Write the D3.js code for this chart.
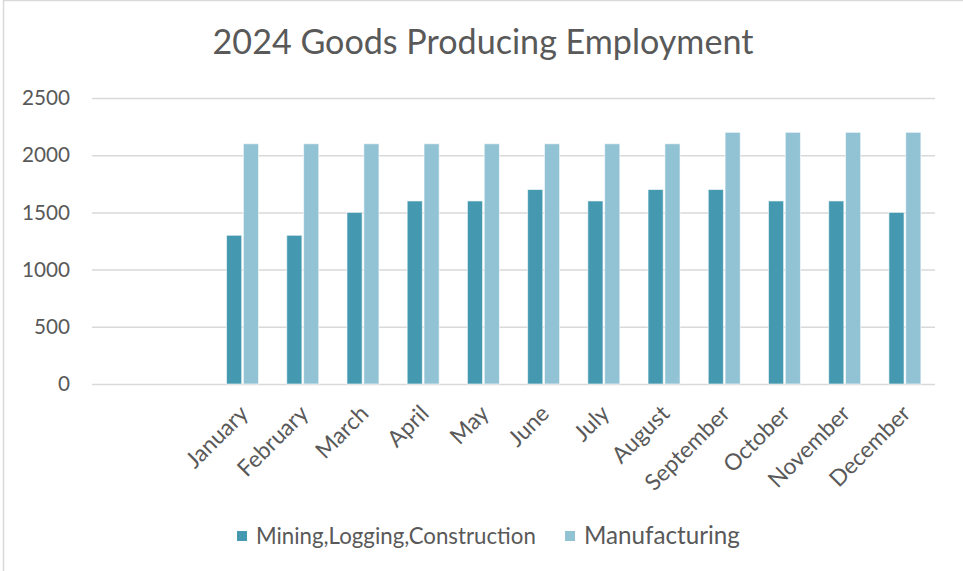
<!DOCTYPE html>
<html><head><meta charset="utf-8">
<script src="https://cdn.jsdelivr.net/npm/d3@7"></script>
<style>body{margin:0;background:#fff}svg{display:block}text{font-family:Lato,"Open Sans",sans-serif;fill:#595959}</style>
</head><body>
<svg id="c" width="963" height="571"></svg>
<script>
const categories = ["", " ", "January","February","March","April","May","June","July","August","September","October","November","December"];
const seriesNames = ["Mining,Logging,Construction","Manufacturing"];
const mining = [null,null,1300,1300,1500,1600,1600,1700,1600,1700,1700,1600,1600,1500];
const manufacturing = [null,null,2100,2100,2100,2100,2100,2100,2100,2100,2200,2200,2200,2200];
const yTicks = [0,500,1000,1500,2000,2500];
const colors = ["#4499b0","#92c3d5"];

const svg = d3.select("#c");
svg.append("rect").attr("x",3.5).attr("y",0.5).attr("width",1000).attr("height",600)
  .attr("fill","#fff").attr("stroke","#d9d9d9").attr("stroke-width",1.5);

function fit(sel, target){
  sel.style("font-size","20px");
  const w = sel.node().getComputedTextLength();
  const s = 20*target/w;
  sel.style("font-size", s+"px");
  return s;
}

const m = {left:92,right:935,top:98,bottom:384};
const x = d3.scaleBand().domain(categories).range([m.left,m.right]).paddingInner(0).paddingOuter(0);
const y = d3.scaleLinear().domain([0,2500]).range([m.bottom,m.top]);

const title = svg.append("text").attr("x",483).attr("y",54).attr("text-anchor","middle")
  .text("2024 Goods Producing Employment");
fit(title, 541);

const probe = svg.append("text").text("2500");
const lab = fit(probe, 48);
probe.remove();

const yAxis = d3.axisLeft(y).tickValues(yTicks).tickFormat(d3.format("d")).tickSize(-(m.right-m.left)).tickPadding(22);
const gy = svg.append("g").attr("transform",`translate(${m.left},0)`).call(yAxis);
gy.select(".domain").remove();
gy.selectAll(".tick line").attr("stroke","#d9d9d9").attr("stroke-width",1.5);
gy.selectAll(".tick text").style("font-size",lab+"px").attr("fill","#595959");

const xAxis = d3.axisBottom(x).tickSize(0).tickPadding(0);
const gx = svg.append("g").attr("transform",`translate(0,${m.bottom})`).call(xAxis);
gx.select(".domain").remove();
gx.selectAll(".tick text").style("font-size",(lab*1.1)+"px").attr("fill","#595959")
  .attr("text-anchor","end").attr("dy",null)
  .attr("transform","translate(7,31) rotate(-45)");
gx.attr("font-family",null);
gy.attr("font-family",null);

const sub = d3.scaleBand().domain([0,1]).range([0,32]).paddingInner(0.1);
const series = [mining, manufacturing];
series.forEach((vals,si)=>{
  svg.append("g").selectAll("rect").data(categories.map((c,i)=>({c,v:vals[i]})).filter(d=>d.v!=null))
    .join("rect")
    .attr("x",d=>x(d.c)+x.bandwidth()/2-16+sub(si))
    .attr("y",d=>y(d.v))
    .attr("width",sub.bandwidth())
    .attr("height",d=>y(0)-y(d.v))
    .attr("fill",colors[si]).attr("stroke","#ffffff").attr("stroke-opacity",0.6).attr("stroke-width",1);
});

const leg = svg.append("g");
const legX = [237,565];
const legW = [280,156];
seriesNames.forEach((n,i)=>{
  leg.append("rect").attr("x",legX[i]).attr("y",531).attr("width",10).attr("height",10).attr("fill",colors[i]);
  const t = leg.append("text").attr("x",legX[i]+19).attr("y",544).text(n);
  fit(t, legW[i]);
});
</script>
</body></html>
